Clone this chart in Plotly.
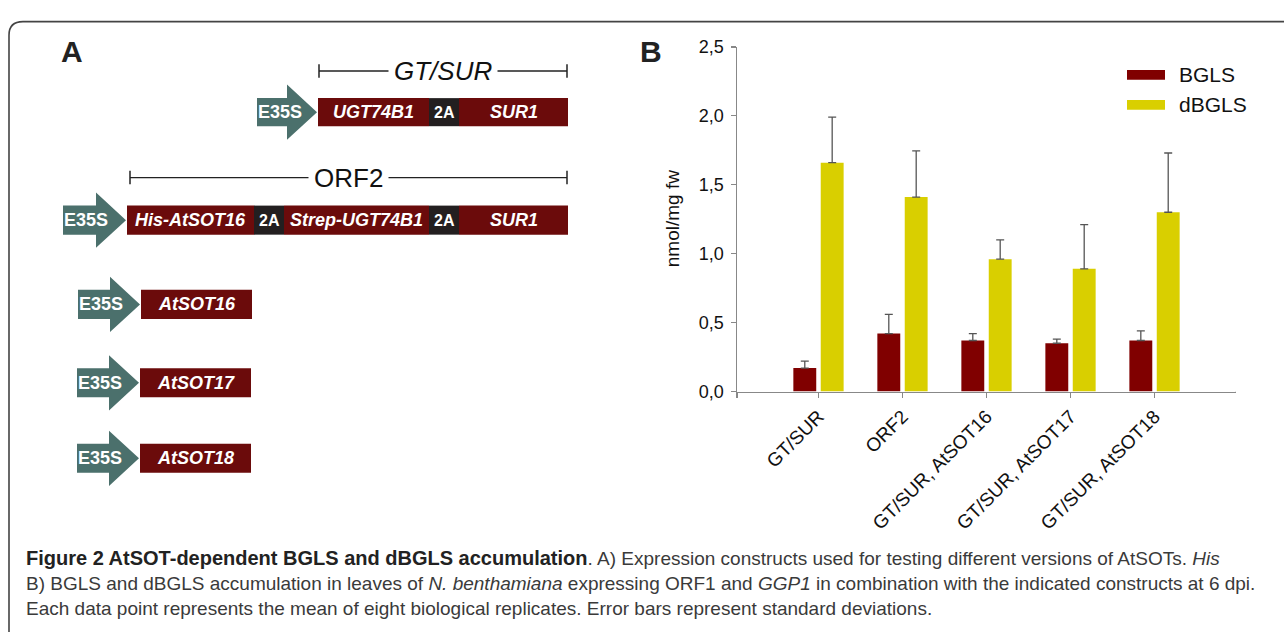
import plotly.graph_objects as go

W, H = 1284, 632

# ---------------- data (panel B) ----------------
categories = ["GT/SUR", "ORF2", "GT/SUR, AtSOT16", "GT/SUR, AtSOT17", "GT/SUR, AtSOT18"]
bgls = [0.17, 0.42, 0.37, 0.35, 0.37]
bgls_sd = [0.05, 0.14, 0.05, 0.03, 0.07]
dbgls = [1.66, 1.41, 0.96, 0.89, 1.30]
dbgls_sd = [0.33, 0.335, 0.14, 0.32, 0.43]
y_ticks = [0, 0.5, 1.0, 1.5, 2.0, 2.5]
series_names = ["BGLS", "dBGLS"]

# ---------------- data (panel A) ----------------
promoter = "E35S"
construct_rows = [
    ["UGT74B1", "2A", "SUR1"],
    ["His-AtSOT16", "2A", "Strep-UGT74B1", "2A", "SUR1"],
    ["AtSOT16"],
    ["AtSOT17"],
    ["AtSOT18"],
]
bracket_labels = ["GT/SUR", "ORF2"]

caption_title = "Figure 2 AtSOT-dependent BGLS and dBGLS accumulation"
caption_lines = [
    ". A) Expression constructs used for testing different versions of AtSOTs. <i>His</i>",
    "B) BGLS and dBGLS accumulation in leaves of <i>N. benthamiana</i> expressing ORF1 and <i>GGP1</i> in combination with the indicated constructs at 6 dpi.",
    "Each data point represents the mean of eight biological replicates. Error bars represent standard deviations.",
]

# ---------------- geometry / styles ----------------
RED_BOX = "#6b0b0b"
BLACK_BOX = "#231f20"
TEAL = "#4b706c"
BAR_COLORS = ["#800000", "#d9cf00"]
FONT = "Liberation Sans, Arial, sans-serif"


def px(x):
    return x / W


def py(y):
    return 1 - y / H


row_geom = [
    dict(ax=257, yt=91, yb=120, edges=[318, 429, 459, 568]),
    dict(ax=63, yt=202, yb=232, edges=[127, 254, 284, 429, 459, 568]),
    dict(ax=78, yt=289, yb=319, edges=[141, 252]),
    dict(ax=77, yt=370, yb=400, edges=[140, 251]),
    dict(ax=77, yt=448, yb=478, edges=[140, 251]),
]
bracket_geom = [
    dict(x0=319, x1=567, y=63, italic=True),
    dict(x0=130, x1=567, y=173, italic=False),
]

fig = go.Figure()
xi = list(range(len(categories)))
fig.add_trace(go.Bar(
    x=xi, y=bgls, name=series_names[0], marker=dict(color=BAR_COLORS[0], line=dict(width=0)),
    error_y=dict(type="data", array=bgls_sd, arrayminus=[0] * len(bgls), symmetric=False,
                 color="#555555", thickness=1.3, width=4),
    showlegend=False))
fig.add_trace(go.Bar(
    x=xi, y=dbgls, name=series_names[1], marker=dict(color=BAR_COLORS[1], line=dict(width=0)),
    error_y=dict(type="data", array=dbgls_sd, arrayminus=[0] * len(dbgls), symmetric=False,
                 color="#555555", thickness=1.3, width=4),
    showlegend=False))

xr = [-0.97, len(categories) - 1 + 0.97]
shapes = []
annotations = []

# extra x-axis tick at right end
shapes.append(dict(type="line", xref="x", yref="y", x0=xr[1], x1=xr[1], y0=0, y1=-0.035,
                   line=dict(color="#888888", width=1.5)))

# ---------- panel A drawing ----------
for labels, g in zip(construct_rows, row_geom):
    e0 = g["edges"][0]
    yc = (g["yt"] + g["yb"]) / 2
    hx = e0 - 31
    tip = e0 - 1
    half = 28.5
    path = (f"M {px(g['ax'])},{py(g['yt'])} L {px(hx)},{py(g['yt'])} L {px(hx)},{py(yc - half)} "
            f"L {px(tip)},{py(yc)} L {px(hx)},{py(yc + half)} L {px(hx)},{py(g['yb'])} "
            f"L {px(g['ax'])},{py(g['yb'])} Z")
    shapes.append(dict(type="path", xref="paper", yref="paper", path=path,
                       fillcolor=TEAL, line=dict(width=0)))
    annotations.append(dict(xref="paper", yref="paper", x=px(g["ax"] + 23), y=py(yc),
                            text=f"<b>{promoter}</b>", showarrow=False,
                            font=dict(family=FONT, size=18, color="white"),
                            xanchor="center", yanchor="middle"))
    for lab, a, b in zip(labels, g["edges"][:-1], g["edges"][1:]):
        is2a = lab == "2A"
        shapes.append(dict(type="rect", xref="paper", yref="paper", x0=px(a), x1=px(b),
                           y0=py(g["yb"]), y1=py(g["yt"]),
                           fillcolor=BLACK_BOX if is2a else RED_BOX, line=dict(width=0)))
        txt = f"<b>{lab}</b>" if is2a else f"<b><i>{lab}</i></b>"
        annotations.append(dict(xref="paper", yref="paper", x=px((a + b) / 2), y=py(yc),
                                text=txt, showarrow=False,
                                font=dict(family=FONT, size=16 if is2a else 18, color="white"),
                                xanchor="center", yanchor="middle"))

for lab, g in zip(bracket_labels, bracket_geom):
    shapes.append(dict(type="line", xref="paper", yref="paper", x0=px(g["x0"]), x1=px(g["x1"]),
                       y0=py(g["y"]), y1=py(g["y"]), line=dict(color="#222", width=1.3)))
    for xe in (g["x0"], g["x1"]):
        shapes.append(dict(type="line", xref="paper", yref="paper", x0=px(xe), x1=px(xe),
                           y0=py(g["y"] - 7), y1=py(g["y"] + 7), line=dict(color="#222", width=1.5)))
    txt = f"<i>{lab}</i>" if g["italic"] else lab
    annotations.append(dict(xref="paper", yref="paper", x=px((g["x0"] + g["x1"]) / 2), y=py(g["y"]),
                            text=txt, showarrow=False, bgcolor="white", borderpad=5,
                            font=dict(family=FONT, size=26, color="#111"),
                            xanchor="center", yanchor="middle"))

# panel letters
annotations.append(dict(xref="paper", yref="paper", x=px(71.5), y=py(43), text="<b>A</b>",
                        showarrow=False, font=dict(family=FONT, size=30, color="#222"),
                        xanchor="center", yanchor="middle"))
annotations.append(dict(xref="paper", yref="paper", x=px(651), y=py(43), text="<b>B</b>",
                        showarrow=False, font=dict(family=FONT, size=30, color="#222"),
                        xanchor="center", yanchor="middle"))

# y axis title
annotations.append(dict(xref="paper", yref="paper", x=px(672), y=py(215), text="nmol/mg fw",
                        textangle=-90, showarrow=False,
                        font=dict(family=FONT, size=19, color="#111"),
                        xanchor="center", yanchor="middle"))

# legend (manual)
for i, (name, col) in enumerate(zip(series_names, BAR_COLORS)):
    yc = 67 + 31 * i
    shapes.append(dict(type="rect", xref="paper", yref="paper", x0=px(1127), x1=px(1165),
                       y0=py(yc + 5), y1=py(yc - 5), fillcolor=col, line=dict(width=0)))
    annotations.append(dict(xref="paper", yref="paper", x=px(1177), y=py(yc), text=name,
                            showarrow=False, font=dict(family=FONT, size=21, color="#111"),
                            xanchor="left", yanchor="middle"))

# caption
CAP_FONT = "Liberation Sans, Arial, sans-serif"
for i, line in enumerate(caption_lines):
    if i == 0:
        line = (f"<span style='font-size:20px;font-weight:bold;color:#222'>{caption_title}</span>"
                + line)
    annotations.append(dict(xref="paper", yref="paper", x=px(24), y=py(566 + 26 * i), text=line,
                            showarrow=False,
                            font=dict(family=CAP_FONT, size=19, color="#3a3a3a"),
                            xanchor="left", yanchor="middle"))

# rounded border box
r = 14
bx, by = 9, 12
border = (f"M {px(bx)},{py(700)} L {px(bx)},{py(by + r)} "
          f"Q {px(bx)},{py(by)} {px(bx + r)},{py(by)} L {px(1400)},{py(by)}")
shapes.append(dict(type="path", xref="paper", yref="paper", path=border,
                   line=dict(color="#444444", width=1.6)))

fig.update_layout(
    width=W, height=H, margin=dict(l=0, r=0, t=0, b=0),
    paper_bgcolor="white", plot_bgcolor="white",
    separators=",.",
    barmode="group", bargap=0.348, bargroupgap=0.164,
    font=dict(family=FONT, color="#111"),
    shapes=shapes, annotations=annotations,
    xaxis=dict(domain=[px(737), px(1236)], range=xr,
               tickmode="array", tickvals=[xr[0] + 1e-4] + xi,
               ticktext=[""] + categories, tickangle=-45,
               tickfont=dict(family=FONT, size=19, color="#111"),
               ticks="outside", ticklen=5, tickcolor="#888888", tickwidth=1.5,
               showline=True, linecolor="#888888", linewidth=1.5,
               showgrid=False, zeroline=False, fixedrange=True),
    yaxis=dict(domain=[py(394), py(38)], range=[0, 2.5],
               tickmode="array", tickvals=y_ticks, tickformat=".1f",
               tickfont=dict(family=FONT, size=18, color="#111"),
               ticks="outside", ticklen=5, tickcolor="#888888", tickwidth=1.5,
               ticklabelstandoff=3,
               showline=True, linecolor="#888888", linewidth=1.5,
               showgrid=False, zeroline=False, fixedrange=True),
)

fig.write_html(
    "out.html",
    config={"displayModeBar": False, "staticPlot": True},
    post_script="document.body.style.margin='0px';document.body.style.overflow='hidden';",
)
